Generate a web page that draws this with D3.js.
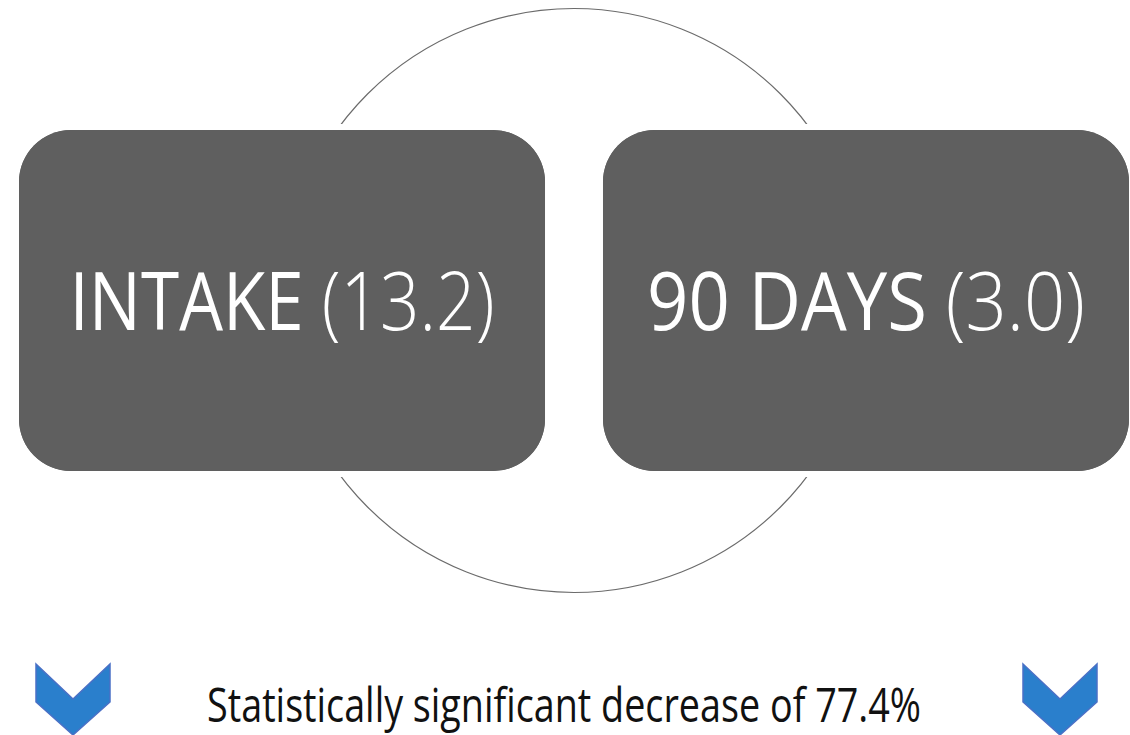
<!DOCTYPE html>
<html>
<head>
<meta charset="utf-8">
<script src="https://cdn.jsdelivr.net/npm/d3@7"></script>
<style>
  html, body { margin: 0; padding: 0; background: #ffffff; }
  svg { display: block; }
</style>
</head>
<body>
<svg id="chart" width="1130" height="735"></svg>
<script>
// Assessment stages and mean scores
const stages = ["INTAKE", "90 DAYS"];
const scores = [13.2, 3.0];
const changeText = ["Statistically significant decrease of"];
const changePct = [77.4];

const W = 1130, H = 735;
const svg = d3.select("#chart");

const boxFill = "#5f5f5f";
const ringStroke = "#6b6b6b";
const arrowFill = "#2a7fcc";
const arrowStroke = "#4a70c6";
const fontStack = "'Open Sans', 'Noto Sans', 'DejaVu Sans', sans-serif";

// Horizontal placement of the stage boxes
const x = d3.scaleBand()
  .domain(stages)
  .range([19, 1129])
  .paddingInner(0.0993)
  .paddingOuter(0);

const boxTop = 130, boxBottom = 471, radius = 52;
const midY = (boxTop + boxBottom) / 2;

// Connecting ring behind the boxes
const cx = (x(stages[0]) + x(stages[1]) + x.bandwidth()) / 2;
svg.append("circle")
  .attr("cx", cx)
  .attr("cy", midY)
  .attr("r", 292)
  .attr("fill", "none")
  .attr("stroke", ringStroke)
  .attr("stroke-width", 1.2);

const data = stages.map((s, i) => ({ stage: s, score: scores[i] }));

const g = svg.selectAll("g.stage")
  .data(data)
  .join("g")
  .attr("class", "stage");

// White halo hides the ring where it passes behind a box
g.append("rect")
  .attr("x", d => x(d.stage))
  .attr("y", boxTop)
  .attr("width", x.bandwidth())
  .attr("height", boxBottom - boxTop)
  .attr("rx", radius)
  .attr("ry", radius)
  .attr("fill", boxFill)
  .attr("stroke", "#ffffff")
  .attr("stroke-width", 12)
  .attr("paint-order", "stroke");

g.append("rect")
  .attr("x", d => x(d.stage))
  .attr("y", boxTop)
  .attr("width", x.bandwidth())
  .attr("height", boxBottom - boxTop)
  .attr("rx", radius)
  .attr("ry", radius)
  .attr("fill", boxFill);

// Stage labels: name plus score, condensed to fit the box
const labelWidths = [425, 438];
const labelGroups = g.append("g");
const labels = labelGroups.append("text")
  .attr("x", 0)
  .attr("y", 0)
  .attr("text-anchor", "middle")
  .attr("fill", "#ffffff")
  .attr("font-family", fontStack)
  .attr("font-size", 81);

labels.append("tspan")
  .attr("font-weight", 400)
  .text(d => d.stage + " ");
labels.append("tspan")
  .attr("font-weight", 300)
  .text(d => "(" + d.score.toFixed(1) + ")");

labelGroups.each(function (d, i) {
  const t = d3.select(this).select("text").node();
  const k = labelWidths[i] / t.getComputedTextLength();
  d3.select(this).attr("transform",
    `translate(${x(d.stage) + x.bandwidth() / 2},330) scale(${k},1)`);
});

// Bottom caption
const capG = svg.append("g");
const caption = capG.append("text")
  .attr("x", 0)
  .attr("y", 0)
  .attr("text-anchor", "middle")
  .attr("fill", "#111111")
  .attr("font-family", fontStack)
  .attr("font-weight", 400)
  .attr("font-size", 47)
  .text(changeText[0] + " " + changePct[0].toFixed(1) + "%");
{
  const k = 714 / caption.node().getComputedTextLength();
  capG.attr("transform", `translate(564,722) scale(${k},1)`);
}

// Down chevrons at both ends of the caption
const chevron = (c) => {
  const hw = 37, top = 664, notch = 35, side = 38, tip = 71;
  return d3.line()([
    [c - hw, top], [c, top + notch], [c + hw, top],
    [c + hw, top + side], [c, top + tip], [c - hw, top + side]
  ]) + "Z";
};
const arrowCenters = [x(stages[0]) + 54, x(stages[1]) + x.bandwidth() - 69];
svg.selectAll("path.chev")
  .data(arrowCenters)
  .join("path")
  .attr("class", "chev")
  .attr("d", d => chevron(d))
  .attr("fill", arrowFill)
  .attr("stroke", arrowStroke)
  .attr("stroke-width", 1.5)
  .attr("stroke-linejoin", "miter");
</script>
</body>
</html>
